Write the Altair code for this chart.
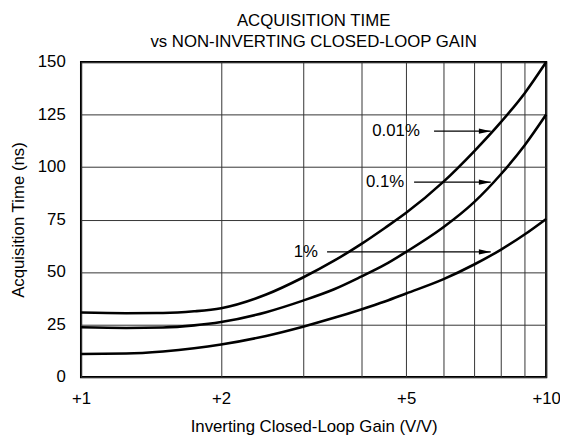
import altair as alt
import pandas as pd

# ---- data ----
gain = [1, 1.25, 1.5, 1.75, 2, 2.5, 3, 3.5, 4, 4.5, 5, 6, 7, 8, 9, 10]
t_001 = [30.7, 30.4, 30.5, 31.3, 32.8, 39.3, 47.4, 55.4, 63.3, 71.0, 78.2, 92.8, 107.5, 121.5, 135.3, 150.0]
t_01 = [23.7, 23.4, 23.6, 24.6, 26.2, 30.9, 36.4, 41.8, 47.8, 53.5, 59.6, 71.2, 83.3, 96.7, 110.5, 125.0]
t_1 = [11.0, 11.2, 12.2, 13.7, 15.5, 19.6, 24.0, 28.2, 32.2, 36.0, 39.8, 46.5, 53.6, 60.7, 68.0, 75.3]
series_names = ["0.01%", "0.1%", "1%"]

label_text = ["0.01%", "0.1%", "1%"]
label_gain = [5.35, 4.95, 3.23]
label_time = [117.1, 92.8, 59.6]
arrow_start = [5.74, 5.20, 3.38]
arrow_end = [7.60, 7.60, 7.60]

x_ticks = [1, 2, 3, 4, 5, 6, 7, 8, 9, 10]
x_labeled = [1, 2, 5, 10]
y_ticks = [0, 25, 50, 75, 100, 125, 150]

FONT = "Liberation Sans"

rows = []
for name, vals in zip(series_names, [t_001, t_01, t_1]):
    for g, v in zip(gain, vals):
        rows.append({"series": name, "gain": g, "time": v})
curves_df = pd.DataFrame(rows)

ann_df = pd.DataFrame({
    "text": label_text,
    "lx": label_gain,
    "time": label_time,
    "start": arrow_start,
    "end": arrow_end,
})

x_scale = alt.Scale(type="log", domain=[1, 10], nice=False)
y_scale = alt.Scale(domain=[0, 150], nice=False)

label_expr = "indexof(" + str(x_labeled) + ", datum.value) >= 0 ? '+' + datum.value : ''"

x_axis = alt.Axis(
    values=x_ticks, labelExpr=label_expr, grid=True, ticks=False, tickSize=0,
    domain=False, labelPadding=14, labelFlush=False, labelOverlap=False,
    title="Inverting Closed-Loop Gain (V/V)", titleX=235.5, titleY=50,
    titleBaseline="middle", titleAlign="center",
)
y_axis = alt.Axis(
    values=y_ticks, grid=True, ticks=False, tickSize=0, domain=False,
    labelPadding=16, title="Acquisition Time (ns)", titleX=-63, titleY=159.5,
    titleAngle=270, titleBaseline="middle", titleAlign="center",
)

curves = alt.Chart(curves_df).mark_line(
    color="black", strokeWidth=2.6, interpolate="monotone"
).encode(
    x=alt.X("gain:Q", scale=x_scale, axis=x_axis),
    y=alt.Y("time:Q", scale=y_scale, axis=y_axis),
    detail="series:N",
)

arrows = alt.Chart(ann_df).mark_rule(color="black", strokeWidth=1.2).encode(
    x=alt.X("start:Q", scale=x_scale),
    x2="end:Q",
    y=alt.Y("time:Q", scale=y_scale),
)

heads = alt.Chart(ann_df).mark_point(
    shape="M-2,-0.45L0,0L-2,0.45Z", filled=True, size=144, color="black", opacity=1
).encode(
    x=alt.X("end:Q", scale=x_scale),
    y=alt.Y("time:Q", scale=y_scale),
)

labels = alt.Chart(ann_df).mark_text(
    align="right", baseline="middle", fontSize=17, font=FONT, color="black"
).encode(
    x=alt.X("lx:Q", scale=x_scale),
    y=alt.Y("time:Q", scale=y_scale),
    text="text:N",
)

chart = alt.layer(curves, arrows, heads, labels).properties(
    width=471,
    height=319,
    autosize=alt.AutoSizeParams(type="none"),
    padding={"left": 74, "top": 52, "right": 14, "bottom": 60},
    title=alt.TitleParams(
        text=["ACQUISITION TIME", "vs NON-INVERTING CLOSED-LOOP GAIN"],
        fontSize=17, font=FONT, fontWeight="normal", color="black",
        anchor="middle", lineHeight=22, offset=2,
    ),
).configure_view(
    stroke="black", strokeWidth=2.2
).configure_axis(
    labelFont=FONT, labelFontSize=17, labelColor="black",
    titleFont=FONT, titleFontSize=17, titleFontWeight="normal", titleColor="black",
    gridColor="#333333", gridWidth=1, gridOpacity=1,
)

chart.save("out.html", embed_options={"renderer": "svg", "actions": False})
